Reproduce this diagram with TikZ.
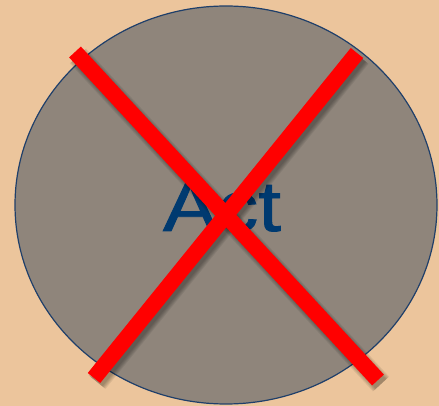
\documentclass[tikz,border=0pt]{standalone}
\usepackage{fontspec}
\setmainfont{Liberation Sans}
\newfontfamily\actfont[FakeBold=1.2]{Liberation Sans}
\usetikzlibrary{shadows,shapes.geometric}
\definecolor{bg}{HTML}{ECC59C}
\definecolor{disk}{HTML}{8F857B}
\definecolor{rim}{HTML}{1F3F6A}
\definecolor{txt}{HTML}{003A70}
\tikzset{
  cross/.style={line width=16pt, red, line cap=butt},
  crossshadow/.style={black, opacity=0.07, line cap=butt},
}
\begin{document}
\begin{tikzpicture}[x=1pt,y=-1pt]
\fill[bg] (0,0) rectangle (439,406);
\useasboundingbox (0,0) rectangle (439,406);
\node[ellipse, draw=rim, line width=1.2pt, fill=disk, minimum width=422pt, minimum height=398pt, inner sep=0pt] (disk) at (226,205) {};
\node[txt, font=\actfont\fontsize{71}{71}\selectfont, xscale=1.15, anchor=base] (act) at (222,231) {Act};
\coordinate (a1) at (75,52);
\coordinate (a2) at (378,380);
\coordinate (b1) at (357,53);
\coordinate (b2) at (94,378);
\begin{scope}[transform canvas={shift={(3pt,-4pt)}}]
\foreach \w in {22,20,18,16,14} {
  \draw[crossshadow, line width=\w pt] (a1) -- (a2);
  \draw[crossshadow, line width=\w pt] (b1) -- (b2);
}
\end{scope}
\draw[cross] (a1) -- (a2);
\draw[cross] (b1) -- (b2);
\end{tikzpicture}
\end{document}
